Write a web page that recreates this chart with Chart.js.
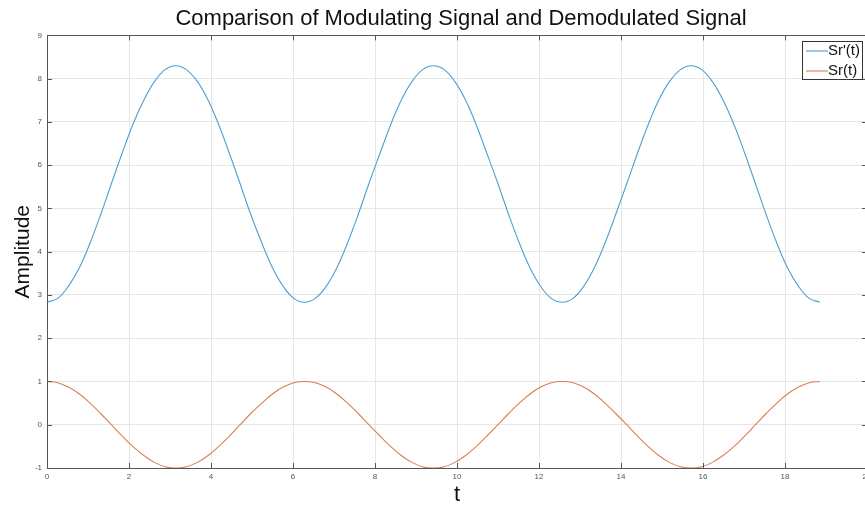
<!DOCTYPE html>
<html>
<head>
<meta charset="utf-8">
<script src="https://cdn.jsdelivr.net/npm/chart.js@4/dist/chart.umd.min.js"></script>
<style>
    html, body { margin: 0; padding: 0; background: #fff; overflow: hidden; }
    #wrap { width: 880px; height: 506px; }
</style>
</head>
<body>
<div id="wrap"><canvas id="sigChart" width="880" height="506"></canvas></div>
<script>
// sample instants (t = k*pi/12)
const tValues = [
    0, 0.26, 0.52, 0.79, 1.05, 1.31, 1.57, 1.83, 2.09, 2.36, 2.62, 2.88,
    3.14, 3.40, 3.67, 3.93, 4.19, 4.45, 4.71, 4.97, 5.24, 5.50, 5.76, 6.02,
    6.28, 6.54, 6.81, 7.07, 7.33, 7.59, 7.85, 8.12, 8.38, 8.64, 8.90, 9.16,
    9.42, 9.69, 9.95, 10.21, 10.47, 10.73, 11.00, 11.26, 11.52, 11.78, 12.04, 12.30,
    12.57, 12.83, 13.09, 13.35, 13.61, 13.87, 14.14, 14.40, 14.66, 14.92, 15.18, 15.45,
    15.71, 15.97, 16.23, 16.49, 16.76, 17.02, 17.28, 17.54, 17.80, 18.06, 18.33, 18.59,
    18.85
];

// demodulated signal Sr'(t)
const demodValues = [
    2.83, 2.92, 3.20, 3.63, 4.20, 4.86, 5.57, 6.27, 6.93, 7.50, 7.93, 8.21,
    8.30, 8.21, 7.93, 7.50, 6.93, 6.27, 5.57, 4.86, 4.20, 3.63, 3.20, 2.92,
    2.83, 2.92, 3.20, 3.63, 4.20, 4.86, 5.57, 6.27, 6.93, 7.50, 7.93, 8.21,
    8.30, 8.21, 7.93, 7.50, 6.93, 6.27, 5.57, 4.86, 4.20, 3.63, 3.20, 2.92,
    2.83, 2.92, 3.20, 3.63, 4.20, 4.86, 5.57, 6.27, 6.93, 7.50, 7.93, 8.21,
    8.30, 8.21, 7.93, 7.50, 6.93, 6.27, 5.57, 4.86, 4.20, 3.63, 3.20, 2.92,
    2.83
];

// modulating signal Sr(t)
const modValues = [
    1, 0.97, 0.87, 0.71, 0.5, 0.26, 0, -0.26, -0.5, -0.71, -0.87, -0.97,
    -1, -0.97, -0.87, -0.71, -0.5, -0.26, 0, 0.26, 0.5, 0.71, 0.87, 0.97,
    1, 0.97, 0.87, 0.71, 0.5, 0.26, 0, -0.26, -0.5, -0.71, -0.87, -0.97,
    -1, -0.97, -0.87, -0.71, -0.5, -0.26, 0, 0.26, 0.5, 0.71, 0.87, 0.97,
    1, 0.97, 0.87, 0.71, 0.5, 0.26, 0, -0.26, -0.5, -0.71, -0.87, -0.97,
    -1, -0.97, -0.87, -0.71, -0.5, -0.26, 0, 0.26, 0.5, 0.71, 0.87, 0.97,
    1
];

const seriesLabels = ["Sr'(t)", 'Sr(t)'];
const seriesColors = ['#4f9fcf', '#de7d55'];

const fontFamily = "'Liberation Sans', Arial, Helvetica, sans-serif";
const axisColor = '#555';

const toPoints = ys => tValues.map((t, i) => ({ x: t, y: ys[i] }));

// center the title over the plot area, like MATLAB does
const titleOverPlot = {
    id: 'titleOverPlot',
    afterLayout(chart) {
        if (!chart.titleBlock) return;
        chart.titleBlock.left = chart.chartArea.left + 8;
        chart.titleBlock.right = chart.chartArea.right;
    }
};

// MATLAB-like box with inward tick marks
const boxTicks = {
    id: 'boxTicks',
    afterDraw(chart) {
        const { ctx, chartArea: a, scales } = chart;
        const len = 5;
        ctx.save();
        ctx.strokeStyle = axisColor;
        ctx.lineWidth = 1;
        ctx.beginPath();
        scales.x.ticks.forEach(tk => {
            const px = Math.round(scales.x.getPixelForValue(tk.value)) + 0.5;
            ctx.moveTo(px, a.bottom); ctx.lineTo(px, a.bottom - len);
            ctx.moveTo(px, a.top); ctx.lineTo(px, a.top + len);
        });
        scales.y.ticks.forEach(tk => {
            const py = Math.round(scales.y.getPixelForValue(tk.value)) + 0.5;
            ctx.moveTo(a.left, py); ctx.lineTo(a.left + len, py);
            ctx.moveTo(a.right, py); ctx.lineTo(a.right - len, py);
        });
        ctx.stroke();
        ctx.strokeRect(Math.round(a.left) + 0.5, Math.round(a.top) + 0.5,
            Math.round(a.right - a.left), Math.round(a.bottom - a.top));
        ctx.restore();
    }
};

// legend box in the upper right corner
const cornerLegend = {
    id: 'cornerLegend',
    afterDraw(chart) {
        const { ctx } = chart;
        const x0 = 802, y0 = 41, w = 60, h = 38;
        ctx.save();
        ctx.fillStyle = '#fff';
        ctx.fillRect(x0, y0, w, h);
        ctx.strokeStyle = '#333';
        ctx.lineWidth = 1;
        ctx.strokeRect(x0 + 0.5, y0 + 0.5, w, h);
        ctx.font = '15px ' + fontFamily;
        ctx.textBaseline = 'middle';
        chart.data.datasets.forEach((ds, i) => {
            const y = y0 + 10 + i * 20;
            ctx.strokeStyle = ds.borderColor;
            ctx.lineWidth = 1.1;
            ctx.beginPath();
            ctx.moveTo(x0 + 4, y);
            ctx.lineTo(x0 + 26, y);
            ctx.stroke();
            ctx.fillStyle = '#111';
            ctx.fillText(ds.label, x0 + 26, y);
        });
        ctx.restore();
    }
};

new Chart(document.getElementById('sigChart'), {
    type: 'line',
    data: {
        datasets: [
            {
                label: seriesLabels[0],
                data: toPoints(demodValues),
                borderColor: seriesColors[0],
                borderWidth: 1.1,
                pointRadius: 0,
                tension: 0.4,
                fill: false
            },
            {
                label: seriesLabels[1],
                data: toPoints(modValues),
                borderColor: seriesColors[1],
                borderWidth: 1.1,
                pointRadius: 0,
                tension: 0.4,
                fill: false
            }
        ]
    },
    options: {
        responsive: false,
        animation: false,
        layout: { padding: { left: 0, right: 13, top: 0, bottom: 0 } },
        plugins: {
            legend: { display: false },
            tooltip: { enabled: false },
            title: {
                display: true,
                text: 'Comparison of Modulating Signal and Demodulated Signal',
                color: '#111',
                font: { family: fontFamily, size: 22, weight: 'normal' },
                padding: { top: 6, bottom: 3 }
            }
        },
        scales: {
            x: {
                type: 'linear',
                min: 0,
                max: 20,
                ticks: {
                    stepSize: 2,
                    color: axisColor,
                    font: { family: fontFamily, size: 8 },
                    padding: 4,
                    maxRotation: 0
                },
                grid: { color: '#e6e6e6', drawTicks: false },
                border: { display: true, color: axisColor },
                title: {
                    display: true,
                    text: 't',
                    color: '#111',
                    font: { family: fontFamily, size: 22, lineHeight: 1 },
                    padding: { top: 0, bottom: 0 }
                },
                afterFit(scale) { scale.height = 38; }
            },
            y: {
                min: -1,
                max: 9,
                ticks: {
                    stepSize: 1,
                    color: axisColor,
                    font: { family: fontFamily, size: 8 },
                    padding: 5
                },
                grid: { color: '#e6e6e6', drawTicks: false },
                border: { display: true, color: axisColor },
                title: {
                    display: true,
                    text: 'Amplitude',
                    color: '#111',
                    font: { family: fontFamily, size: 21, lineHeight: 1 },
                    padding: { top: 13, bottom: 0 }
                },
                afterFit(scale) { scale.width = 47; }
            }
        }
    },
    plugins: [titleOverPlot, boxTicks, cornerLegend]
});
</script>
</body>
</html>
